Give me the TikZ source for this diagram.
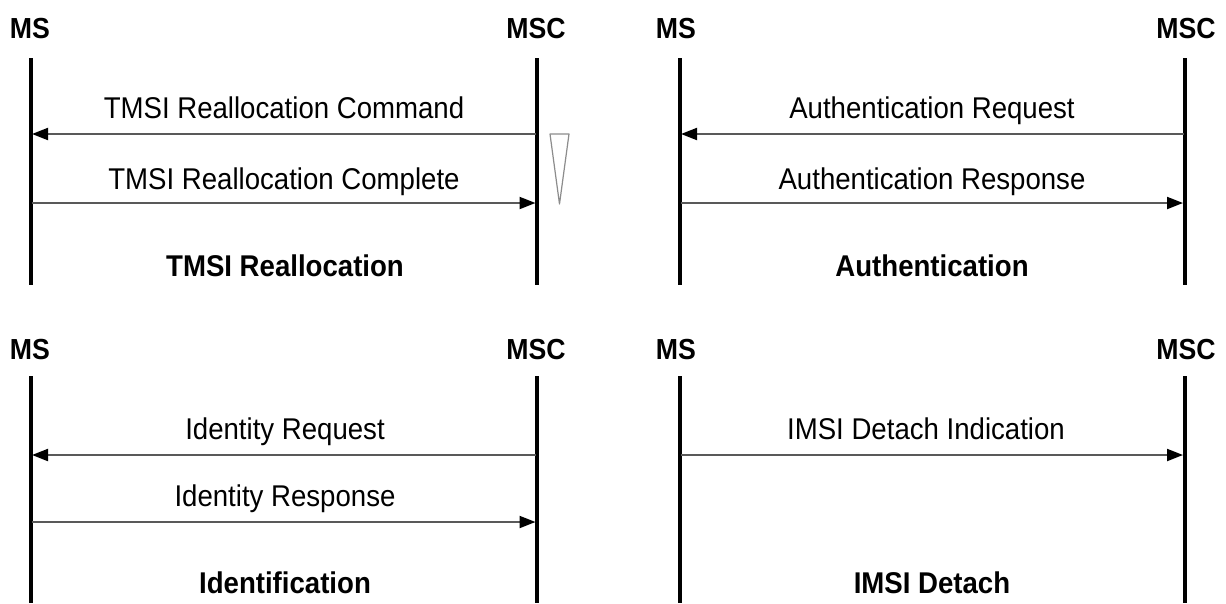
\documentclass[tikz,border=0pt]{standalone}
\usepackage{fontspec}
\setmainfont{Liberation Sans}
\newfontfamily\narrowsans[FakeStretch=0.92]{Liberation Sans}
\usetikzlibrary{arrows.meta}
\begin{document}
\begin{tikzpicture}[x=1pt,y=-1pt,
  lbl/.style={font=\narrowsans\fontsize{30}{32}\selectfont, anchor=base, inner sep=0pt},
  ttl/.style={font=\narrowsans\fontsize{30}{32}\selectfont\bfseries, anchor=base, inner sep=0pt},
  ent/.style={font=\narrowsans\fontsize{29}{32}\selectfont\bfseries, anchor=base, inner sep=0pt},
  life/.style={line width=3.2pt, black},
  msg/.style={line width=2pt, black!65, -{Triangle[length=16pt,width=12pt,fill=black,color=black]}}]
\useasboundingbox (0,0) rectangle (1226,603);
\fill[white] (0,0) rectangle (1226,603);
% entity labels
\node[ent] (ms1) at (30,38) {MS};
\node[ent] (msc1) at (536,38) {MSC};
\node[ent] (ms2) at (676,38) {MS};
\node[ent] (msc2) at (1186,38) {MSC};
\node[ent] (ms3) at (30,359) {MS};
\node[ent] (msc3) at (536,359) {MSC};
\node[ent] (ms4) at (676,359) {MS};
\node[ent] (msc4) at (1186,359) {MSC};
% lifeline endpoints
\coordinate (a1) at (31,58);  \coordinate (a2) at (31,285);
\coordinate (b1) at (537,58); \coordinate (b2) at (537,285);
\coordinate (c1) at (680,58); \coordinate (c2) at (680,285);
\coordinate (d1) at (1185,58); \coordinate (d2) at (1185,285);
\coordinate (e1) at (31,376);  \coordinate (e2) at (31,603);
\coordinate (f1) at (537,376); \coordinate (f2) at (537,603);
\coordinate (g1) at (680,376); \coordinate (g2) at (680,603);
\coordinate (h1) at (1185,376); \coordinate (h2) at (1185,603);
\foreach \p/\q in {a1/a2,b1/b2,c1/c2,e1/e2,f1/f2,g1/g2} \draw[life] (\p) -- (\q);
\foreach \p/\q in {d1/d2,h1/h2} \draw[life, line width=4pt] (\p) -- (\q);
% message endpoints
\coordinate (m1l) at (32,134);  \coordinate (m1r) at (536,134);
\coordinate (m2l) at (32,203);  \coordinate (m2r) at (535.5,203);
\coordinate (m3l) at (681,134); \coordinate (m3r) at (1184,134);
\coordinate (m4l) at (681,203); \coordinate (m4r) at (1183,203);
\coordinate (m5l) at (32,455);  \coordinate (m5r) at (536,455);
\coordinate (m6l) at (32,522);  \coordinate (m6r) at (535.5,522);
\coordinate (m7l) at (681,455); \coordinate (m7r) at (1183,455);
\draw[msg] (m1r) -- (m1l);
\draw[msg] (m2l) -- (m2r);
\draw[msg] (m3r) -- (m3l);
\draw[msg] (m4l) -- (m4r);
\draw[msg] (m5r) -- (m5l);
\draw[msg] (m6l) -- (m6r);
\draw[msg] (m7l) -- (m7r);
% message labels
\node[lbl] (t1) at (284,118) {TMSI Reallocation Command};
\node[lbl] (t2) at (284,189) {TMSI Reallocation Complete};
\node[lbl] (t3) at (932,118) {Authentication Request};
\node[lbl] (t4) at (932,189) {Authentication Response};
\node[lbl] (t5) at (285,439) {Identity Request};
\node[lbl] (t6) at (285,506) {Identity Response};
\node[lbl] (t7) at (926,439) {IMSI Detach Indication};
% titles
\node[ttl] (h1) at (285,276) {TMSI Reallocation};
\node[ttl] (h2) at (932,276) {Authentication};
\node[ttl] (h3) at (285,593) {Identification};
\node[ttl] (h4) at (932,593) {IMSI Detach};
% small gray wedge
\draw[black!45, line width=1.2pt, line join=round] (550,134) -- (569,134) -- (559.5,204) -- cycle;
\end{tikzpicture}
\end{document}
